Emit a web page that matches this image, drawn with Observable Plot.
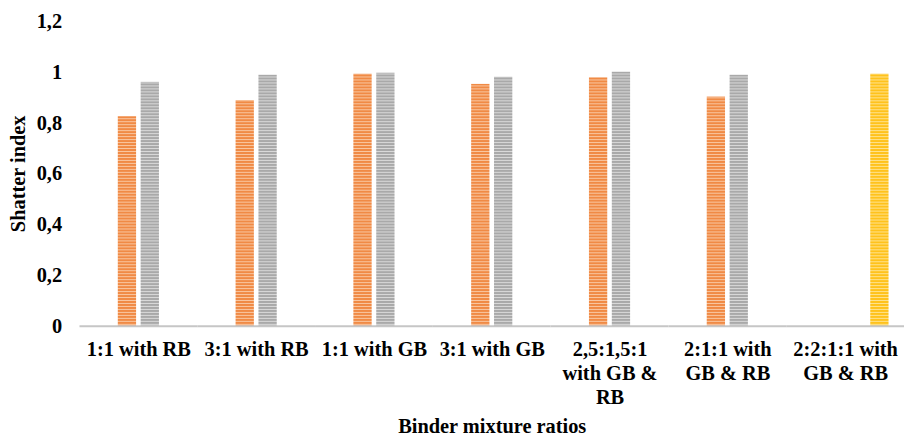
<!DOCTYPE html>
<html>
<head>
<meta charset="utf-8">
<script src="https://cdn.jsdelivr.net/npm/d3@7"></script>
<script src="https://cdn.jsdelivr.net/npm/@observablehq/plot@0.6"></script>
<style>
  html, body { margin: 0; padding: 0; background: #fff; overflow: hidden; }
  #chart svg { display: block; }
</style>
</head>
<body>
<div id="chart"></div>
<script>
const categories = ["1:1 with RB", "3:1 with RB", "1:1 with GB", "3:1 with GB", "2,5:1,5:1 with GB & RB", "2:1:1 with GB & RB", "2:2:1:1 with GB & RB"];
const tickLabels = ["1:1 with RB", "3:1 with RB", "1:1 with GB", "3:1 with GB", "2,5:1,5:1\nwith GB &\nRB", "2:1:1 with\nGB & RB", "2:2:1:1 with\nGB & RB"];
const seriesNames = ["Series 1", "Series 2", "Series 3", "Series 4"];
const series2 = [0.825, 0.888, 0.992, 0.952, 0.978, 0.902, null];
const series3 = [0.960, 0.988, 0.996, 0.980, 1.000, 0.988, null];
const series4 = [null, null, null, null, null, null, 0.992];
const yTicks = [0, 0.2, 0.4, 0.6, 0.8, 1.0, 1.2];

const data = [];
categories.forEach((c, i) => {
  [[seriesNames[1], series2], [seriesNames[2], series3], [seriesNames[3], series4]].forEach(([s, arr]) => {
    if (arr[i] != null) data.push({category: c, series: s, value: arr[i]});
  });
});
const fills = {"Series 2": "url(#pat-orange)", "Series 3": "url(#pat-gray)", "Series 4": "url(#pat-yellow)"};
const labelOf = Object.fromEntries(categories.map((c, i) => [c, tickLabels[i]]));
const font = "'Liberation Serif', 'Times New Roman', serif";

const plot = Plot.plot({
  width: 910,
  height: 440,
  marginTop: 21,
  marginBottom: 112,
  marginLeft: 80,
  marginRight: 0,
  style: {fontFamily: font, fontWeight: "bold", fontSize: "20.5px", color: "#000", background: "#fff"},
  fx: {domain: categories, padding: 0, round: false},
  x: {domain: seriesNames, paddingInner: 0.2, paddingOuter: 0.676, round: false, axis: null},
  y: {domain: [0, 1.2]},
  marks: [
    Plot.barY(data, {fx: "category", x: "series", y: "value", fill: d => fills[d.series]}),
    Plot.ruleY([0], {stroke: "#c6c6c6", strokeWidth: 2}),
    Plot.axisY({ticks: yTicks, tickFormat: d => String(d).replace(".", ","), tickSize: 0, tickPadding: 18,
      fontSize: 20.5, fontWeight: "bold", label: "Shatter index", labelArrow: "none", labelAnchor: "center", labelOffset: 70}),
    Plot.axisFx({anchor: "bottom", tickSize: 0, tickPadding: 12, tickFormat: d => labelOf[d], lineHeight: 1.2,
      fontSize: 20.5, fontWeight: "bold", label: "Binder mixture ratios", labelArrow: "none", labelAnchor: "center", labelOffset: 107})
  ]
});

const defs = d3.create("svg:defs");
function addPattern(id, base, light) {
  const p = defs.append("pattern").attr("id", id).attr("patternUnits", "userSpaceOnUse")
    .attr("width", 4).attr("height", 3);
  p.append("rect").attr("width", 4).attr("height", 3).attr("fill", base);
  p.append("rect").attr("y", 2).attr("width", 4).attr("height", 1).attr("fill", light);
}
addPattern("pat-orange", "#f08a45", "#f9c6a0");
addPattern("pat-gray", "#a9a9a9", "#d9d9d9");
addPattern("pat-yellow", "#ffc21c", "#ffe28c");
plot.insertBefore(defs.node(), plot.firstChild);

document.getElementById("chart").appendChild(plot);
</script>
</body>
</html>
